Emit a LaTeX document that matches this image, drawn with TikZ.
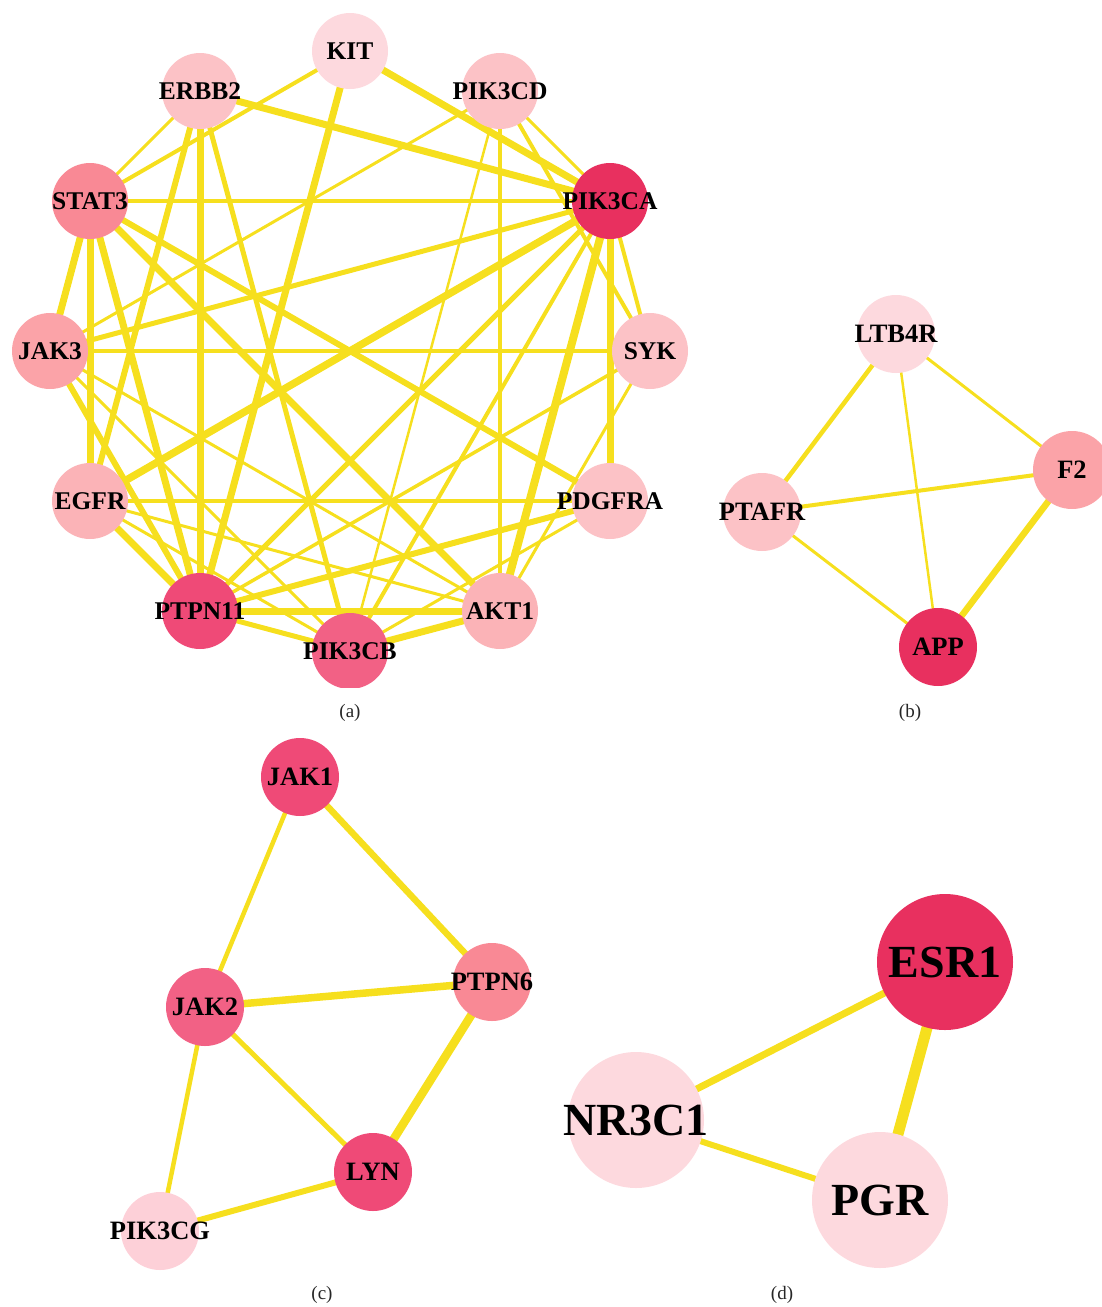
\documentclass[tikz,border=0pt]{standalone}
\usepackage{fontspec}
\setmainfont{Liberation Serif}
\usetikzlibrary{backgrounds}
\definecolor{edgecol}{HTML}{F6DF1E}
\definecolor{pA}{HTML}{FDD9DE}
\definecolor{pB}{HTML}{FCC2C6}
\definecolor{pC}{HTML}{FBB3B7}
\definecolor{pD}{HTML}{FBA3A8}
\definecolor{pE}{HTML}{F98995}
\definecolor{pF}{HTML}{F26185}
\definecolor{pG}{HTML}{EF4A77}
\definecolor{pH}{HTML}{E8305F}
\definecolor{pI}{HTML}{FDD0D8}
\tikzset{
  labA/.style={font=\bfseries\fontsize{25.5}{28}\selectfont, text=black},
  labB/.style={font=\bfseries\fontsize{26.5}{29}\selectfont, text=black},
  labD/.style={font=\bfseries\fontsize{46}{50}\selectfont, text=black},
  geneA/.style 2 args={circle, inner sep=0pt, minimum size=76pt, fill=#1, label={[labA]center:#2}},
  geneB/.style 2 args={circle, inner sep=0pt, minimum size=78pt, fill=#1, label={[labB]center:#2}},
  geneD/.style 2 args={circle, inner sep=0pt, minimum size=136pt, fill=#1, label={[labD]center:#2}},
  ed/.style={draw=edgecol, line width=#1},
  captext/.style={font=\fontsize{19}{22}\selectfont, text=black!85}
}
\begin{document}
\begin{tikzpicture}[x=1pt,y=-1pt]
\useasboundingbox (0,0) rectangle (1102,1307);
% ---------- panel (a)
\begin{scope}
\clip (0,0) rectangle (720,687);
\node[geneA={pA}{KIT}]    (kit)    at (350,51)  {};
\node[geneA={pB}{PIK3CD}] (pik3cd) at (500,91)  {};
\node[geneA={pH}{PIK3CA}] (pik3ca) at (610,201) {};
\node[geneA={pB}{SYK}]    (syk)    at (650,351) {};
\node[geneA={pB}{PDGFRA}] (pdgfra) at (610,501) {};
\node[geneA={pC}{AKT1}]   (akt1)   at (500,611) {};
\node[geneA={pF}{PIK3CB}] (pik3cb) at (350,651) {};
\node[geneA={pG}{PTPN11}] (ptpn11) at (200,611) {};
\node[geneA={pC}{EGFR}]   (egfr)   at (90,501)  {};
\node[geneA={pD}{JAK3}]   (jak3)   at (50,351)  {};
\node[geneA={pE}{STAT3}]  (stat3)  at (90,201)  {};
\node[geneA={pB}{ERBB2}]  (erbb2)  at (200,91)  {};
\begin{scope}[on background layer]
\draw[ed=7pt] (kit.center) -- (pik3ca.center);
\draw[ed=4pt] (kit.center) -- (stat3.center);
\draw[ed=7pt] (kit.center) -- (ptpn11.center);
\draw[ed=3pt] (erbb2.center) -- (stat3.center);
\draw[ed=7pt] (erbb2.center) -- (pik3ca.center);
\draw[ed=6pt] (erbb2.center) -- (egfr.center);
\draw[ed=7pt] (erbb2.center) -- (ptpn11.center);
\draw[ed=5pt] (erbb2.center) -- (pik3cb.center);
\draw[ed=3pt] (pik3cd.center) -- (pik3ca.center);
\draw[ed=4pt] (pik3cd.center) -- (syk.center);
\draw[ed=4.5pt] (pik3cd.center) -- (akt1.center);
\draw[ed=2.5pt] (pik3cd.center) -- (pik3cb.center);
\draw[ed=3pt] (pik3cd.center) -- (jak3.center);
\draw[ed=4pt] (stat3.center) -- (pik3ca.center);
\draw[ed=7pt] (stat3.center) -- (jak3.center);
\draw[ed=7pt] (stat3.center) -- (egfr.center);
\draw[ed=7pt] (stat3.center) -- (ptpn11.center);
\draw[ed=7pt] (stat3.center) -- (akt1.center);
\draw[ed=6pt] (stat3.center) -- (pdgfra.center);
\draw[ed=5pt] (pik3ca.center) -- (jak3.center);
\draw[ed=7.5pt] (pik3ca.center) -- (egfr.center);
\draw[ed=5pt] (pik3ca.center) -- (ptpn11.center);
\draw[ed=4pt] (pik3ca.center) -- (pik3cb.center);
\draw[ed=8pt] (pik3ca.center) -- (akt1.center);
\draw[ed=7pt] (pik3ca.center) -- (pdgfra.center);
\draw[ed=4pt] (pik3ca.center) -- (syk.center);
\draw[ed=3.5pt] (jak3.center) -- (syk.center);
\draw[ed=6pt] (jak3.center) -- (ptpn11.center);
\draw[ed=3pt] (jak3.center) -- (akt1.center);
\draw[ed=3pt] (jak3.center) -- (pik3cb.center);
\draw[ed=3.5pt] (egfr.center) -- (pdgfra.center);
\draw[ed=7pt] (egfr.center) -- (ptpn11.center);
\draw[ed=3pt] (egfr.center) -- (akt1.center);
\draw[ed=3pt] (egfr.center) -- (pik3cb.center);
\draw[ed=7pt] (ptpn11.center) -- (akt1.center);
\draw[ed=5pt] (ptpn11.center) -- (pik3cb.center);
\draw[ed=6pt] (ptpn11.center) -- (pdgfra.center);
\draw[ed=3.5pt] (ptpn11.center) -- (syk.center);
\draw[ed=7pt] (pik3cb.center) -- (akt1.center);
\draw[ed=3pt] (pik3cb.center) -- (pdgfra.center);
\draw[ed=3pt] (syk.center) -- (akt1.center);
\end{scope}
\end{scope}
\node[captext] (capa) at (350,713) {(a)};
% ---------- panel (b)
\node[geneB={pA}{LTB4R}] (ltb4r) at (896,334) {};
\node[geneB={pD}{F2}]    (f2)    at (1072,470) {};
\node[geneB={pB}{PTAFR}] (ptafr) at (762,512) {};
\node[geneB={pH}{APP}]   (app)   at (938,647) {};
\begin{scope}[on background layer]
\draw[ed=4.5pt] (ltb4r.center) -- (ptafr.center);
\draw[ed=2.5pt] (ltb4r.center) -- (app.center);
\draw[ed=3pt] (ltb4r.center) -- (f2.center);
\draw[ed=4pt] (ptafr.center) -- (f2.center);
\draw[ed=3pt] (ptafr.center) -- (app.center);
\draw[ed=6.5pt] (f2.center) -- (app.center);
\end{scope}
\node[captext] (capb) at (910,713) {(b)};
% ---------- panel (c)
\node[geneB={pG}{JAK1}]   (jak1)   at (300,777)  {};
\node[geneB={pF}{JAK2}]   (jak2)   at (205,1007) {};
\node[geneB={pE}{PTPN6}]  (ptpn6)  at (492,982)  {};
\node[geneB={pG}{LYN}]    (lyn)    at (373,1172) {};
\node[geneB={pI}{PIK3CG}] (pik3cg) at (160,1231) {};
\begin{scope}[on background layer]
\draw[ed=4.5pt] (jak1.center) -- (jak2.center);
\draw[ed=6.5pt] (jak1.center) -- (ptpn6.center);
\draw[ed=7.5pt] (jak2.center) -- (ptpn6.center);
\draw[ed=5pt] (jak2.center) -- (lyn.center);
\draw[ed=4.5pt] (jak2.center) -- (pik3cg.center);
\draw[ed=8.5pt] (ptpn6.center) -- (lyn.center);
\draw[ed=6pt] (lyn.center) -- (pik3cg.center);
\end{scope}
\node[captext] (capc) at (322,1295) {(c)};
% ---------- panel (d)
\node[geneD={pH}{ESR1}]  (esr1)  at (945,962)  {};
\node[geneD={pA}{NR3C1}] (nr3c1) at (636,1120) {};
\node[geneD={pA}{PGR}]   (pgr)   at (880,1200) {};
\begin{scope}[on background layer]
\draw[ed=7pt] (esr1.center) -- (nr3c1.center);
\draw[ed=11pt] (esr1.center) -- (pgr.center);
\draw[ed=6pt] (nr3c1.center) -- (pgr.center);
\end{scope}
\node[captext] (capd) at (782,1295) {(d)};
\end{tikzpicture}
\end{document}
